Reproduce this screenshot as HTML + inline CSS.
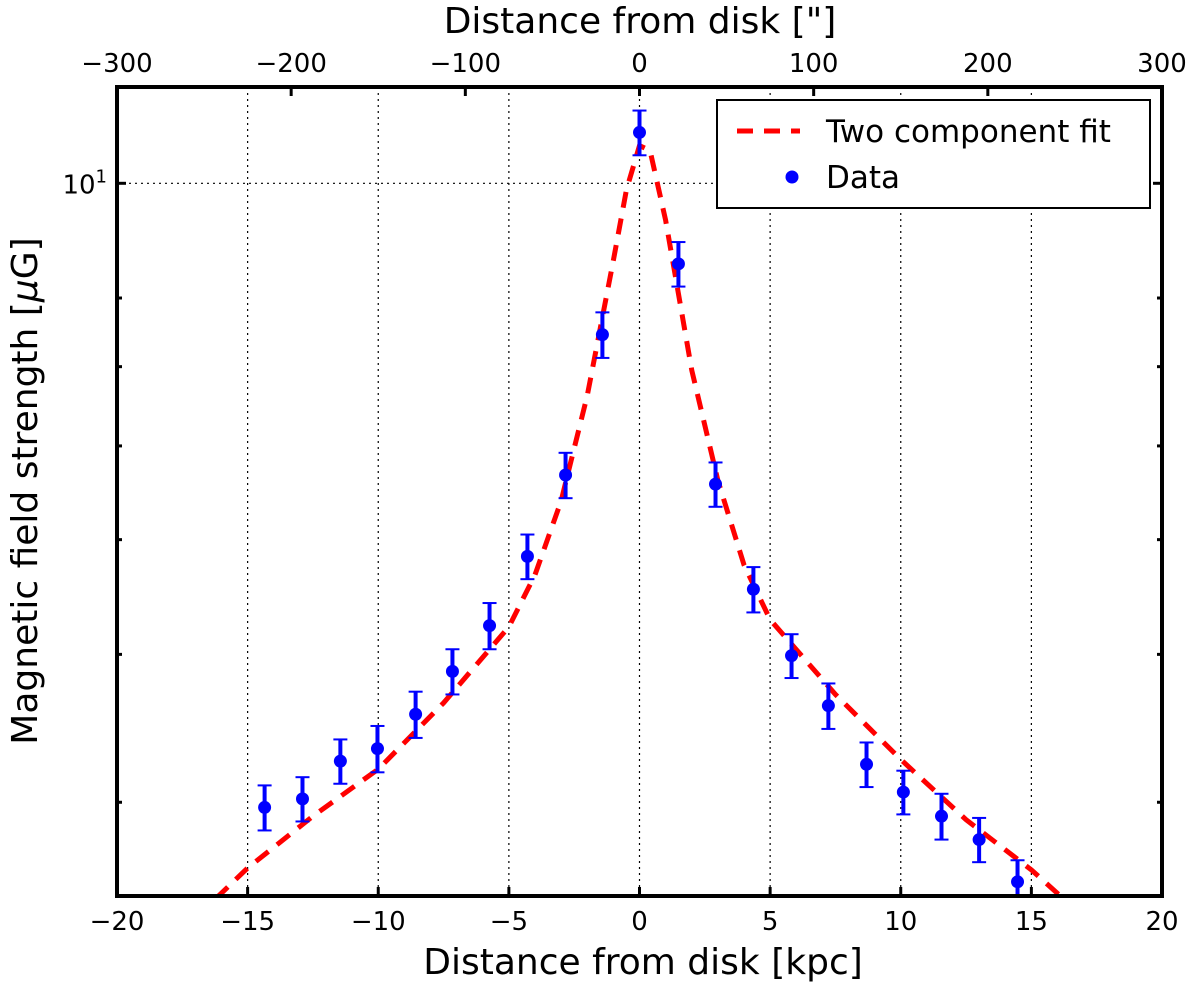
<!DOCTYPE html>
<html><head><meta charset="utf-8"><style>
html,body{margin:0;padding:0;background:#fff;}
svg{display:block;font-family:"DejaVu Sans","Liberation Sans",sans-serif;}
</style></head><body>
<svg id="chart" width="1200" height="991" viewBox="0 0 1200 991"></svg>
<script>
const xData = [-14.35,-12.9,-11.45,-10.03,-8.57,-7.16,-5.74,-4.29,-2.83,-1.42,0,1.49,2.91,4.36,5.82,7.23,8.69,10.1,11.56,13.0,14.47];
const yData = [2.97,3.02,3.25,3.33,3.56,3.87,4.23,4.84,5.67,7.45,11.04,8.55,5.57,4.54,3.99,3.62,3.23,3.06,2.92,2.79,2.57];
const yErr = [0.13,0.13,0.14,0.15,0.16,0.17,0.19,0.21,0.25,0.33,0.48,0.37,0.24,0.20,0.17,0.16,0.14,0.13,0.13,0.12,0.11];
const fitX = [-16.2,-15,-12.5,-10,-7.5,-5,-4,-3,-2,-1,-0.5,0,0.4,1,2,3,4,5,7.5,10,12.5,15,16.2];
const fitY = [2.49,2.64,2.92,3.20,3.64,4.22,4.67,5.39,6.62,8.61,9.87,10.76,10.66,9.31,6.95,5.61,4.76,4.28,3.70,3.26,2.90,2.63,2.49];
const xTicks = [-20,-15,-10,-5,0,5,10,15,20];
const topTicks = [-300,-200,-100,0,100,200,300];
const yMinor = [3,4,5,6,7,8];

const L=117,R=1162,T=87,B=896;
const X0=-20,X1=20,YL=Math.log10(2.5),YH=Math.log10(12.06);
const sx=v=>L+(v-X0)/(X1-X0)*(R-L);
const sy=v=>B-(Math.log10(v)-YL)/(YH-YL)*(B-T);
const st=v=>L+(v+300)/600*(R-L);
const svg=document.getElementById('chart');
const NS='http://www.w3.org/2000/svg';
function mk(tag,attrs,parent){const e=document.createElementNS(NS,tag);for(const k in attrs)e.setAttribute(k,attrs[k]);(parent||svg).appendChild(e);return e;}

const grid=mk('g',{});


xTicks.forEach(t=>{if(t>X0&&t<X1){const l=mk('line',{x1:sx(t),x2:sx(t),y1:T,y2:B,stroke:'#000','stroke-width':1.2,'stroke-dasharray':'2,4'},grid);}});
{const l=mk('line',{x1:L,x2:R,y1:sy(10),y2:sy(10),stroke:'#000','stroke-width':1.2,'stroke-dasharray':'2,4'},grid);}

let d='';fitX.forEach((x,i)=>{d+=(i?'L':'M')+sx(x).toFixed(1)+','+sy(fitY[i]).toFixed(1);});
const clip=mk('clipPath',{id:'pc'});mk('rect',{x:L,y:T,width:R-L,height:B-T},clip);
const fit=mk('path',{d:d,fill:'none',stroke:'#ff0000','stroke-width':5,'stroke-dasharray':'16,11','clip-path':'url(#pc)'});



const pts=mk('g',{'clip-path':'url(#pc)'});


xData.forEach((x,i)=>{
 const cx=sx(x),y=yData[i],e=yErr[i];
 const g=mk('g',{},pts);
 
 
 const y1=sy(y+e),y2=sy(y-e);
 mk('line',{x1:cx,x2:cx,y1:y1,y2:y2,stroke:'#0000ff','stroke-width':4},g);
 mk('line',{x1:cx-7,x2:cx+7,y1:y1,y2:y1,stroke:'#0000ff','stroke-width':2},g);
 mk('line',{x1:cx-7,x2:cx+7,y1:y2,y2:y2,stroke:'#0000ff','stroke-width':2},g);
 mk('circle',{cx:cx,cy:sy(y),r:6.5,fill:'#0000ff'},g);
});

const ax=mk('g',{});


xTicks.forEach(t=>{
 const x=sx(t);
 mk('line',{x1:x,x2:x,y1:B,y2:B-9,stroke:'#000','stroke-width':3},ax);
 const tx=mk('text',{x:x,y:B+34,'text-anchor':'middle','font-size':26},ax);
 tx.textContent=(t<0?'\u2212'+(-t):t);
 
 
});
topTicks.forEach(t=>{
 const x=st(t);
 mk('line',{x1:x,x2:x,y1:T,y2:T+9,stroke:'#000','stroke-width':3},ax);
 const tx=mk('text',{x:x,y:T-15,'text-anchor':'middle','font-size':26},ax);
 tx.textContent=(t<0?'\u2212'+(-t):t);
 
 
});
yMinor.forEach(v=>{const y=sy(v);
 mk('line',{x1:L,x2:L+5,y1:y,y2:y,stroke:'#000','stroke-width':3},ax);
 mk('line',{x1:R,x2:R-5,y1:y,y2:y,stroke:'#000','stroke-width':3},ax);});
{const y=sy(10);
 mk('line',{x1:L,x2:L+9,y1:y,y2:y,stroke:'#000','stroke-width':3},ax);
 mk('line',{x1:R,x2:R-9,y1:y,y2:y,stroke:'#000','stroke-width':3},ax);
 const tx=mk('text',{x:L-10,y:y+10,'text-anchor':'end','font-size':26},ax);
 tx.innerHTML='10<tspan dy="-11" font-size="18">1</tspan>';
 
 }
const frame=mk('rect',{x:L,y:T,width:R-L,height:B-T,fill:'none',stroke:'#000','stroke-width':4});



let t1=mk('text',{x:643,y:974,'text-anchor':'middle','font-size':36});t1.textContent='Distance from disk [kpc]';

let t2=mk('text',{x:640,y:33,'text-anchor':'middle','font-size':36});t2.textContent='Distance from disk ["]';

let t3=mk('text',{x:0,y:0,'text-anchor':'middle','font-size':36,transform:'translate(37,491) rotate(-90)'});
t3.innerHTML='Magnetic field strength [<tspan font-style="italic">μ</tspan>G]';


const lg=mk('g',{});


mk('rect',{x:717,y:100,width:433,height:108,fill:'#fff',stroke:'#000','stroke-width':2},lg);
const l1=mk('line',{x1:737,x2:800,y1:131,y2:131,stroke:'#ff0000','stroke-width':5,'stroke-dasharray':'16,11'},lg);

let lt1=mk('text',{x:826,y:142,'font-size':31},lg);lt1.textContent='Two component fit';

const c1=mk('circle',{cx:792,cy:177,r:6.5,fill:'#0000ff'},lg);

let lt2=mk('text',{x:826,y:188,'font-size':31},lg);lt2.textContent='Data';

</script>
</body></html>
